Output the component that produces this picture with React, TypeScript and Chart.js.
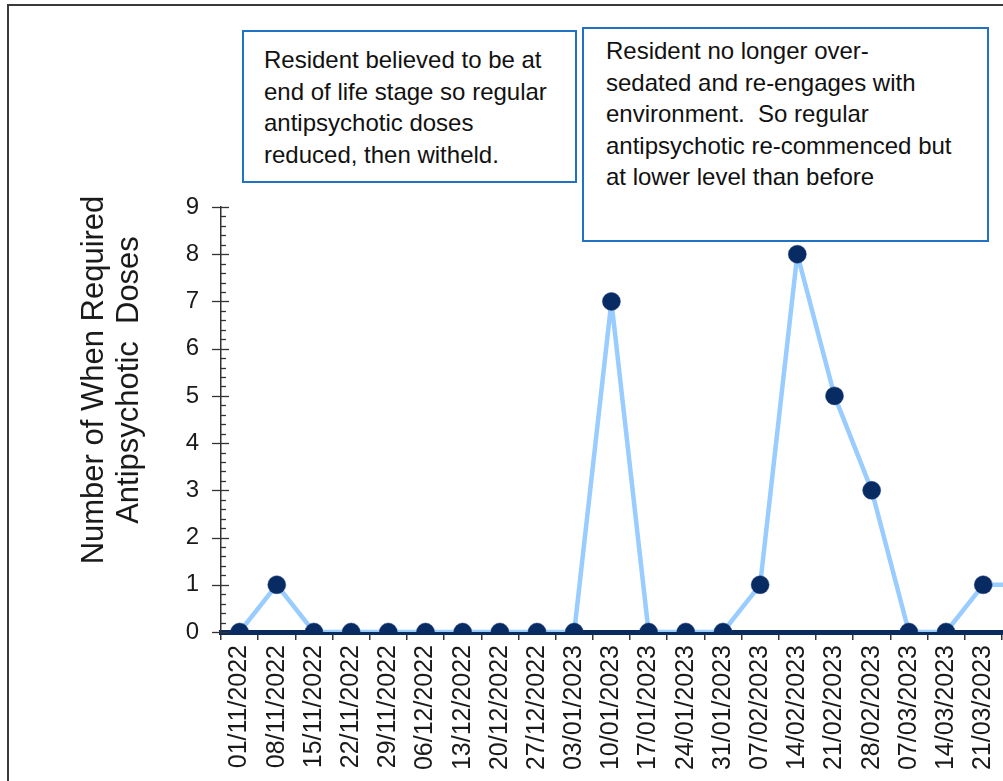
import React, { useEffect, useRef } from "react";
import { Chart, registerables } from "chart.js";

Chart.register(...registerables);

const categories: string[] = [
  "01/11/2022", "08/11/2022", "15/11/2022", "22/11/2022", "29/11/2022",
  "06/12/2022", "13/12/2022", "20/12/2022", "27/12/2022", "03/01/2023",
  "10/01/2023", "17/01/2023", "24/01/2023", "31/01/2023", "07/02/2023",
  "14/02/2023", "21/02/2023", "28/02/2023", "07/03/2023", "14/03/2023",
  "21/03/2023", "28/03/2023",
];
const doses: number[] = [0, 1, 0, 0, 0, 0, 0, 0, 0, 0, 7, 0, 0, 0, 1, 8, 5, 3, 0, 0, 1, 1];
const yMin = 0;
const yMax = 9;
const yMinorStep = 0.2;
const yTitleLines: string[] = ["Number of When Required", "Antipsychotic  Doses"];
const note1Lines: string[] = [
  "Resident believed to be at",
  "end of life stage so regular",
  "antipsychotic doses",
  "reduced, then witheld.",
];
const note2Lines: string[] = [
  "Resident no longer over-",
  "sedated and re-engages with",
  "environment.  So regular",
  "antipsychotic re-commenced but",
  "at lower level than before",
];

const FONT = "Arial, 'Liberation Sans', Helvetica, sans-serif";

const yTickPlugin = {
  id: "yTickPlugin",
  afterDraw(chart: any) {
    const y = chart.scales.y;
    const ctx = chart.ctx;
    const ax = y.right;
    ctx.save();
    ctx.strokeStyle = "#333333";
    ctx.lineWidth = 1.3;
    const n = Math.round((yMax - yMin) / yMinorStep);
    for (let i = 0; i <= n; i++) {
      const v = yMin + i * yMinorStep;
      const py = Math.round(y.getPixelForValue(v)) + 0.5;
      const major = i % 5 === 0;
      ctx.beginPath();
      if (major) {
        ctx.moveTo(ax - 9, py);
        ctx.lineTo(ax + 8, py);
      } else {
        ctx.moveTo(ax, py);
        ctx.lineTo(ax + 5, py);
      }
      ctx.stroke();
    }
    ctx.restore();
  },
};

export default function App() {
  const ref = useRef<HTMLCanvasElement | null>(null);

  useEffect(() => {
    if (!ref.current) return;
    const chart = new Chart(ref.current, {
      type: "line",
      data: {
        labels: categories,
        datasets: [
          {
            data: doses,
            borderColor: "#99CCFF",
            borderWidth: 4.5,
            borderJoinStyle: "round",
            tension: 0,
            pointRadius: 9,
            pointHoverRadius: 9,
            pointBackgroundColor: "#072B62",
            pointBorderColor: "#1A3C78",
            pointBorderWidth: 0.5,
          },
        ],
      },
      options: {
        responsive: false,
        maintainAspectRatio: false,
        animation: false,
        devicePixelRatio: 1,
        layout: { padding: { top: 207, left: 0, right: 61, bottom: 0 } },
        plugins: {
          legend: { display: false },
          tooltip: { enabled: false },
          title: { display: false },
        },
        scales: {
          x: {
            type: "category",
            offset: true,
            z: 1,
            grid: {
              offset: true,
              drawOnChartArea: false,
              drawTicks: true,
              tickLength: 8,
              tickColor: "#333333",
              lineWidth: 1.5,
            },
            border: { display: true, color: "#0B2A5E", width: 5 },
            ticks: {
              autoSkip: false,
              minRotation: 90,
              maxRotation: 90,
              padding: 5,
              color: "#1a1a1a",
              font: { family: FONT, size: 25 },
            },
            afterFit(scale: any) {
              scale.height = 149;
            },
          },
          y: {
            min: yMin,
            max: yMax,
            grid: { display: true, drawOnChartArea: false, drawTicks: false },
            border: { display: true, color: "#333333", width: 1.5 },
            ticks: {
              stepSize: 1,
              padding: 22,
              color: "#1a1a1a",
              font: { family: FONT, size: 24 },
            },
            afterFit(scale: any) {
              scale.width = 221;
            },
          },
        },
      },
      plugins: [yTickPlugin],
    });
    return () => chart.destroy();
  }, []);

  const boxText: React.CSSProperties = {
    fontFamily: FONT,
    fontSize: 24,
    lineHeight: "31.5px",
    color: "#111111",
    whiteSpace: "pre",
  };

  return (
    <div
      style={{
        position: "fixed",
        left: 0,
        top: 0,
        width: "100vw",
        height: "100vh",
        overflow: "hidden",
        background: "#ffffff",
      }}
    >
      <div
        style={{
          position: "absolute",
          left: 7,
          top: 4,
          width: 1300,
          height: 1100,
          border: "2px solid #3a3a3a",
          boxSizing: "border-box",
        }}
      />
      <canvas
        ref={ref}
        width={1100}
        height={781}
        style={{ position: "absolute", left: 0, top: 0, width: 1100, height: 781 }}
      />
      <div
        style={{
          position: "absolute",
          left: 110 - 210,
          top: 380 - 35,
          width: 420,
          height: 70,
          transform: "rotate(-90deg)",
          transformOrigin: "50% 50%",
          textAlign: "center",
          fontFamily: FONT,
          fontSize: 31,
          lineHeight: "35px",
          color: "#1a1a1a",
          whiteSpace: "pre",
        }}
      >
        {yTitleLines.map((l, i) => (
          <div key={i}>{l}</div>
        ))}
      </div>
      <div
        style={{
          position: "absolute",
          left: 242,
          top: 30,
          width: 335,
          height: 153,
          border: "2px solid #2272C3",
          boxSizing: "border-box",
          background: "#ffffff",
          paddingLeft: 20,
          paddingTop: 12,
          ...boxText,
        }}
      >
        {note1Lines.map((l, i) => (
          <div key={i}>{l}</div>
        ))}
      </div>
      <div
        style={{
          position: "absolute",
          left: 582,
          top: 27,
          width: 407,
          height: 215,
          border: "2px solid #2272C3",
          boxSizing: "border-box",
          background: "#ffffff",
          paddingLeft: 22,
          paddingTop: 6,
          ...boxText,
        }}
      >
        {note2Lines.map((l, i) => (
          <div key={i}>{l}</div>
        ))}
      </div>
    </div>
  );
}
